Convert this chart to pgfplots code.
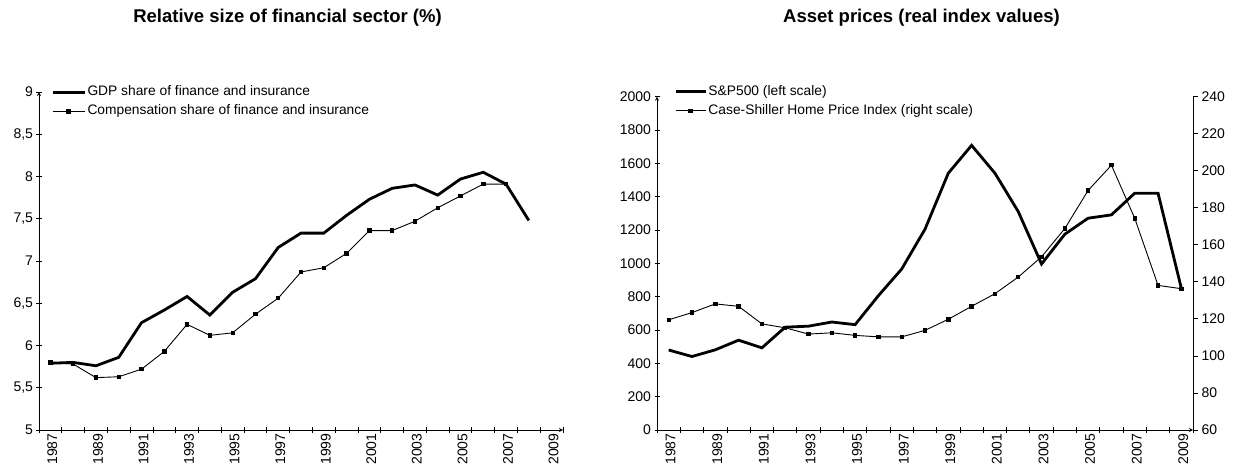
\documentclass[border=0pt]{standalone}
\usepackage{pgfplots}
\pgfplotsset{compat=1.18}
\usepackage{fontspec}
\setmainfont{Liberation Sans}

\pgfplotsset{
  common/.style={
    scale only axis,
    anchor=south west,
    xmin=-0.5, xmax=22.5,
    /pgf/number format/assume math mode=true,
    /pgf/number format/1000 sep={},
    tick align=outside,
    major tick length=5bp,
    axis line style={-, line width=0.8bp},
    every tick/.style={line width=0.8bp, black},
    tick label style={font=\fontsize{14bp}{16bp}\selectfont},
    xtick={-0.5,0.5,...,22.5},
    xticklabels={},
    extra x ticks={0,2,...,22},
    extra x tick labels={1987,1989,1991,1993,1995,1997,1999,2001,2003,2005,2007,2009},
    extra x tick style={major tick length=0pt, xticklabel style={rotate=90, anchor=east, yshift=-2bp}},
    legend style={draw=none, fill=none, inner sep=0pt, anchor=north west,
      font=\fontsize{13.8bp}{16bp}\selectfont, cells={anchor=west},
      nodes={inner sep=1.5bp, text height=10bp, text depth=3bp}, row sep=3bp},
    clip=false,
  },
  thickline/.style={black, line width=2.8bp, mark=none},
  thinline/.style={black, line width=0.9bp, mark=square*, mark size=1.7bp, mark options={solid}},
}

\pgfplotstableread{
x gdp
0 5.79
1 5.80
2 5.76
3 5.86
4 6.27
5 6.42
6 6.58
7 6.36
8 6.63
9 6.79
10 7.16
11 7.33
12 7.33
13 7.54
14 7.73
15 7.86
16 7.90
17 7.78
18 7.97
19 8.05
20 7.91
21 7.48
}\gdp

\pgfplotstableread{
x comp
0 5.80
1 5.78
2 5.62
3 5.63
4 5.72
5 5.93
6 6.25
7 6.12
8 6.15
9 6.37
10 6.56
11 6.87
12 6.92
13 7.09
14 7.36
15 7.36
16 7.47
17 7.63
18 7.77
19 7.91
20 7.91
}\comp

\pgfplotstableread{
x sp
0 480
1 441
2 481
3 539
4 493
5 617
6 623
7 648
8 632
9 806
10 966
11 1205
12 1541
13 1708
14 1541
15 1311
16 996
17 1175
18 1271
19 1291
20 1421
21 1421
22 850
}\sp

\pgfplotstableread{
x cs
0 119.5
1 123.4
2 128.1
3 126.8
4 117.3
5 115.2
6 111.8
7 112.5
8 111.1
9 110.3
10 110.3
11 113.8
12 119.8
13 126.8
14 133.6
15 142.6
16 153.5
17 168.8
18 189.4
19 203.0
20 174.3
21 138.1
22 136.3
}\cs

\begin{document}
\begin{tikzpicture}
\path[use as bounding box] (0bp,0bp) rectangle (1234bp,475bp);

\node[anchor=base, font=\fontsize{18.5bp}{20bp}\selectfont\bfseries] at (287.5bp,452.5bp) {Relative size of financial sector (\%)};
\node[anchor=base, font=\fontsize{18.5bp}{20bp}\selectfont\bfseries] at (921.5bp,452.5bp) {Asset prices (real index values)};

% Left chart
\begin{axis}[common,
  at={(39bp,45bp)}, width=524bp, height=338bp,
  ymin=5, ymax=9,
  axis x line=bottom, axis y line=left,
  ytick={5,5.5,6,6.5,7,7.5,8,8.5,9},
  yticklabels={5,{5,5},6,{6,5},7,{7,5},8,{8,5},9},
  legend style={at={(0.0229,1.023)}},
  legend image code/.code={\draw[#1, mark repeat=2, mark phase=2] plot coordinates {(0bp,0bp) (16bp,0bp) (32bp,0bp)};},
]
\addplot[thickline] table[x=x, y=gdp] {\gdp};
\addlegendentry{GDP share of finance and insurance}
\addplot[thinline] table[x=x, y=comp] {\comp};
\addlegendentry{Compensation share of finance and insurance}
\end{axis}

% Right chart, left scale
\begin{axis}[common,
  at={(657bp,45bp)}, width=536bp, height=333.3bp,
  ymin=0, ymax=2000,
  axis x line=bottom, axis y line=left,
  ytick={0,200,...,2000},
  legend style={at={(0.0317,1.0396)}},
  legend image code/.code={\draw[#1, mark repeat=2, mark phase=2] plot coordinates {(0bp,0bp) (15bp,0bp) (30bp,0bp)};},
]
\addplot[thickline] table[x=x, y=sp] {\sp};
\addlegendentry{S\&P500 (left scale)}
\addlegendimage{thinline}
\addlegendentry{Case-Shiller Home Price Index (right scale)}
\end{axis}

% Right chart, right scale
\begin{axis}[
  scale only axis, anchor=south west,
  at={(657bp,45bp)}, width=536bp, height=333.3bp,
  xmin=-0.5, xmax=22.5,
  ymin=60, ymax=240,
  axis x line=none, axis y line=right,
  /pgf/number format/assume math mode=true,
  tick align=outside, major tick length=5bp,
  axis line style={-, line width=0.8bp},
  every tick/.style={line width=0.8bp, black},
  tick label style={font=\fontsize{14bp}{16bp}\selectfont},
  ytick={60,80,...,240},
  clip=false,
]
\addplot[thinline] table[x=x, y=cs] {\cs};
\end{axis}
\end{tikzpicture}
\end{document}
